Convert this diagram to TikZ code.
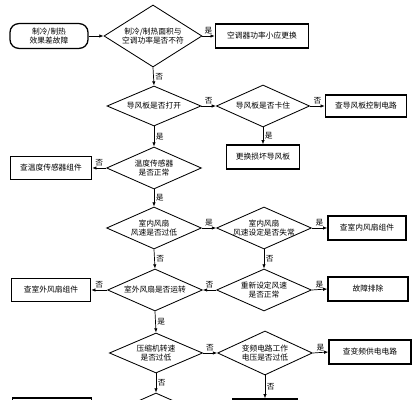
\documentclass[tikz,border=0pt]{standalone}
\usepackage{fontspec}
\newfontfamily\cjk{Noto Sans CJK SC}
\usetikzlibrary{shapes.geometric}
\usetikzlibrary{arrows.meta}
\tikzstyle{Txt}=[font=\cjk\fontsize{5.5}{7}\selectfont,align=center]
\tikzstyle{Start}=[Txt,draw,line width=.9pt,rounded corners=2.2mm,
minimum width=1.95cm,minimum height=.62cm,inner sep=0pt]
\tikzstyle{Box}=[Txt,draw,line width=.9pt,minimum height=.6cm,inner sep=0pt]
\tikzstyle{Dec}=[diamond,draw,line width=.6pt,inner sep=0pt,
minimum width=2.37cm,minimum height=1.05cm]
\tikzstyle{Edge}=[draw,line width=.5pt,-{Latex[length=3pt,width=2.4pt]}]
\tikzstyle{Lbl}=[Txt,inner sep=1pt]

\begin{document}
\begin{tikzpicture}[x=.025cm,y=-.025cm]
        \useasboundingbox(0,0)rectangle(417,400);
        \clip(0,0)rectangle(417,400);
        % main column
        \node[Start](start)at(49,36){制冷/制热\\效果差故障};
        \node[Dec,minimum width=2.45cm,minimum height=1.55cm,
            label={[Txt]center:{制冷/制热面积与\\空调功率是否不符}}](d1)at(153,36){};
        \node[Dec,minimum width=2.35cm,minimum height=1cm,
            label={[Txt]center:{导风板是否打开}}](d2)at(154,106){};
        \node[Dec,label={[Txt]center:{温度传感器\\是否正常}}](d4)at(154,168){};
        \node[Dec,label={[Txt]center:{室内风扇\\风速是否过低}}](d5)at(154,228){};
        \node[Dec,label={[Txt]center:{室外风扇是否运转}}](d8)at(155,290){};
        \node[Dec,minimum width=2.33cm,minimum height=1cm,
            label={[Txt]center:{压缩机转速\\是否过低}}](d9)at(156,353){};
        \node[Dec](d11)at(156,414){};
        % second column
        \node[Dec,minimum width=2.33cm,
            label={[Txt]center:{导风板是否卡住}}](d3)at(263,106){};
        \node[Dec,label={[Txt]center:{室内风扇\\风速设定是否失常}}](d6)at(264,228){};
        \node[Dec,label={[Txt]center:{重新设定风速\\是否正常}}](d7)at(264,290){};
        \node[Dec,minimum height=1.1cm,
            label={[Txt]center:{变频电路工作\\电压是否过低}}](d10)at(265,353){};
        \node[Box,minimum width=1.83cm](rep)at(263,157){更换损坏导风板};
        \node[Box,minimum width=1.63cm](b1)at(265,411){};
        % boxes
        \node[Box,minimum width=2.33cm](pwr)at(262,36){空调器功率小应更换};
        \node[Box,minimum width=2.03cm,minimum height=.55cm](ctl)at(366,106){查导风板控制电路};
        \node[Box,minimum width=2.03cm,minimum height=.58cm](tmp)at(51,168){查温度传感器组件};
        \node[Box,minimum width=1.95cm](ifan)at(367,228){查室内风扇组件};
        \node[Box,minimum width=2cm](ok)at(368,289){故障排除};
        \node[Box,minimum width=1.98cm,minimum height=.58cm](ofan)at(51,290){查室外风扇组件};
        \node[Box,minimum width=2.05cm](inv)at(370,352){查变频供电电路};
        \node[Box,minimum width=1.98cm](b2)at(52,410){};
        % connectors
        \draw[Edge](start.east)--(d1.west);
        \draw[Edge](d1.east)--node[Lbl,above]{是}(pwr.west);
        \draw[Edge](d1.south)--node[Lbl,right]{否}(d2.north);
        \draw[Edge](d2.east)--node[Lbl,above]{否}(d3.west);
        \draw[Edge](d3.east)--node[Lbl,above]{否}(ctl.west);
        \draw[Edge](d3.south)--node[Lbl,right]{是}(rep.north);
        \draw[Edge](d2.south)--node[Lbl,right]{是}(d4.north);
        \draw[Edge](d4.west)--node[Lbl,above]{否}(tmp.east);
        \draw[Edge](d4.south)--node[Lbl,right]{是}(d5.north);
        \draw[Edge](d5.east)--node[Lbl,above]{是}(d6.west);
        \draw[Edge](d6.east)--node[Lbl,above]{是}(ifan.west);
        \draw[Edge](d6.south)--node[Lbl,right]{否}(d7.north);
        \draw[Edge](d7.east)--node[Lbl,above]{是}(ok.west);
        \draw[Edge](d7.west)--node[Lbl,above]{否}(d8.east);
        \draw[Edge](d5.south)--node[Lbl,right]{否}(d8.north);
        \draw[Edge](d8.west)--node[Lbl,above]{否}(ofan.east);
        \draw[Edge](d8.south)--node[Lbl,right]{是}(d9.north);
        \draw[Edge](d9.east)--node[Lbl,above]{否}(d10.west);
        \draw[Edge](d10.east)--node[Lbl,above]{是}(inv.west);
        \draw[Edge](d10.south)--node[Lbl,right]{否}(b1.north);
        \draw[Edge](d9.south)--node[Lbl,right]{否}(d11.north);
    \end{tikzpicture}
\end{document}
